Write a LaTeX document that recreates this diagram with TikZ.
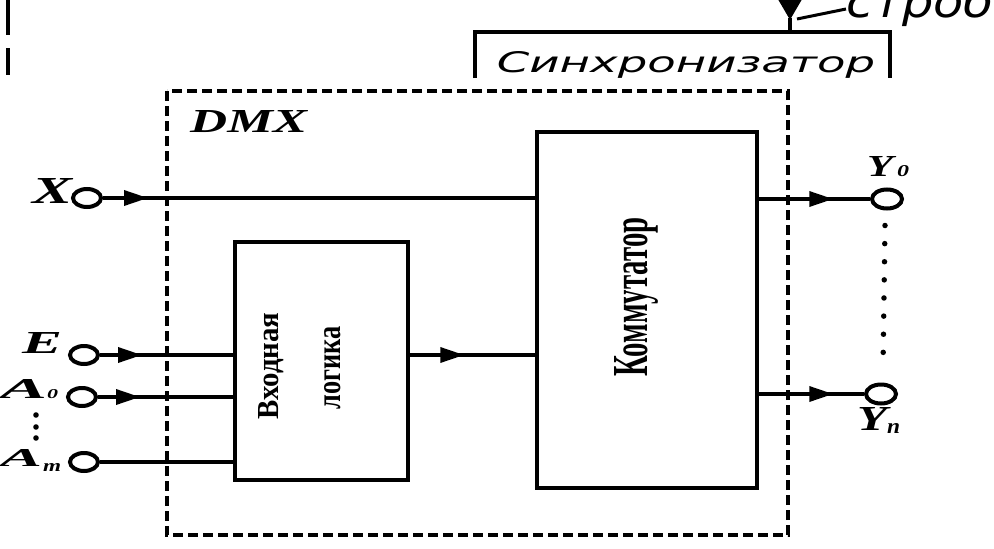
\documentclass[tikz,border=0pt]{standalone}
\usepackage{fontspec}
\setmainfont{Liberation Serif}
\newfontfamily\gostfont{DejaVu Sans}
\usetikzlibrary{shapes.geometric,arrows.meta,decorations.markings,calc}
\newcommand\rb[3]{\resizebox{#1pt}{#2pt}{#3}}
\tikzset{
  >={Triangle[length=24pt,width=15pt]},
  blk/.style={draw,line width=4.5pt,inner sep=0pt},
  ln/.style={line width=3.5pt},
  term/.style={draw,ellipse,line width=4pt,minimum width=28pt,minimum height=18pt,inner sep=0pt},
  lbl/.style={inner sep=0pt,font=\bfseries\itshape},
  vtxt/.style={rotate=90,anchor=base,inner sep=0pt,font=\bfseries},
  arr/.style={postaction={decorate,decoration={markings,mark=at position #1 with {\arrow{>}}}}},
  frame/.style={line width=4pt,dash pattern=on 10pt off 5pt}
}
\begin{document}
\begin{tikzpicture}[x=1pt,y=-1pt]
\clip (0,0) rectangle (994,549);
\fill[white] (0,0) rectangle (994,549);

% fragment of the upper figure
\draw[line width=4.5pt] (8,0) -- (8,35);
\draw[line width=4.5pt] (8,48) -- (8,75);
\draw[line width=4.5pt] (475,78) -- (475,32) -- (890,32) -- (890,78);
\node[anchor=base,inner sep=0pt] (sync) at (686,72) {\rb{378}{21}{\gostfont\itshape Синхронизатор}};
\coordinate (strobtop) at (790,-4);
\coordinate (strobbot) at (790,32);
\draw[line width=4pt,-{Triangle[length=20pt,width=22pt]}] (strobtop) -- (790,20);
\draw[line width=4pt] (790,18) -- (strobbot);
\node[anchor=base west,inner sep=0pt] (strob) at (846,17) {\rb{148}{34}{\gostfont\itshape строб}};
\coordinate (lead) at (797,19);
\draw[line width=3pt] (lead) -- ($(strob.base west)+(0,-8)$);

% DMX frame
\draw[frame] (167,91) rectangle (788,535);
\node[lbl,anchor=base west] (dmx) at (190,132) {\rb{117}{22}{DMX}};

% blocks
\node[blk,minimum width=173pt,minimum height=238pt] (vl) at (321.5,361) {};
\node[blk,minimum width=220pt,minimum height=356pt] (km) at (647,310) {};
\node[vtxt] (t1) at (278,366) {\rb{107}{20}{Входная}};
\node[vtxt] (t2) at (340,368) {\rb{83}{16}{логика}};
\node[vtxt] (t3) at (647,297) {\rb{159}{33}{Коммутатор}};

% terminals
\node[term] (cx) at (87,198) {};
\node[term] (ce) at (84,355) {};
\node[term] (ca0) at (82,397) {};
\node[term] (cam) at (84,462) {};
\node[term,minimum width=30pt,minimum height=19pt] (cy0) at (887,199) {};
\node[term,minimum width=30pt,minimum height=19pt] (cyn) at (881,394) {};

% labels
\node[lbl,anchor=base west] (lx) at (32,203) {\rb{40}{25}{X}};
\node[lbl,anchor=base west] (le) at (22,353) {\rb{40}{21}{E}};
\node[lbl,anchor=base west] (la0) at (0,398) {\rb{47}{19}{A}\rb{11}{9}{0}};
\node[lbl,anchor=base west] (lam) at (0,466) {\rb{42}{17}{A}};
\node[lbl,anchor=base west] (lamsub) at (43,471) {\rb{18}{8}{m}};
\node[lbl,anchor=base west] (ly0) at (867,176) {\rb{26}{20}{Y}\kern4pt\rb{12}{11}{0}};
\node[lbl,anchor=base west] (lyn) at (857,430) {\rb{30}{23}{Y}\raisebox{-3pt}{\rb{13}{10}{n}}};

% dots
\foreach \yy in {415,427,438} \fill (36,\yy) circle (2.8pt);
\draw[line width=5.5pt,line cap=round,dash pattern=on 0pt off 18.125pt] ($(cy0.south)+(-2,15)$) -- ($(cyn.north)+(2,-14)$);

% connectors
\draw[ln,arr=45pt] (cx.east) -- (cx.east -| km.west);
\draw[ln,arr=42pt] (ce.east) -- (ce.east -| vl.west);
\draw[ln,arr=42pt] (ca0.east) -- (ca0.east -| vl.west);
\draw[ln] (cam.east) -- (cam.east -| vl.west);
\draw[ln,arr=54pt] (vl.east |- ce) -- (km.west |- ce);
\draw[ln,arr=74pt] (km.east |- cy0) -- (cy0.west);
\draw[ln,arr=74pt] (km.east |- cyn) -- (cyn.west);
\end{tikzpicture}
\end{document}
